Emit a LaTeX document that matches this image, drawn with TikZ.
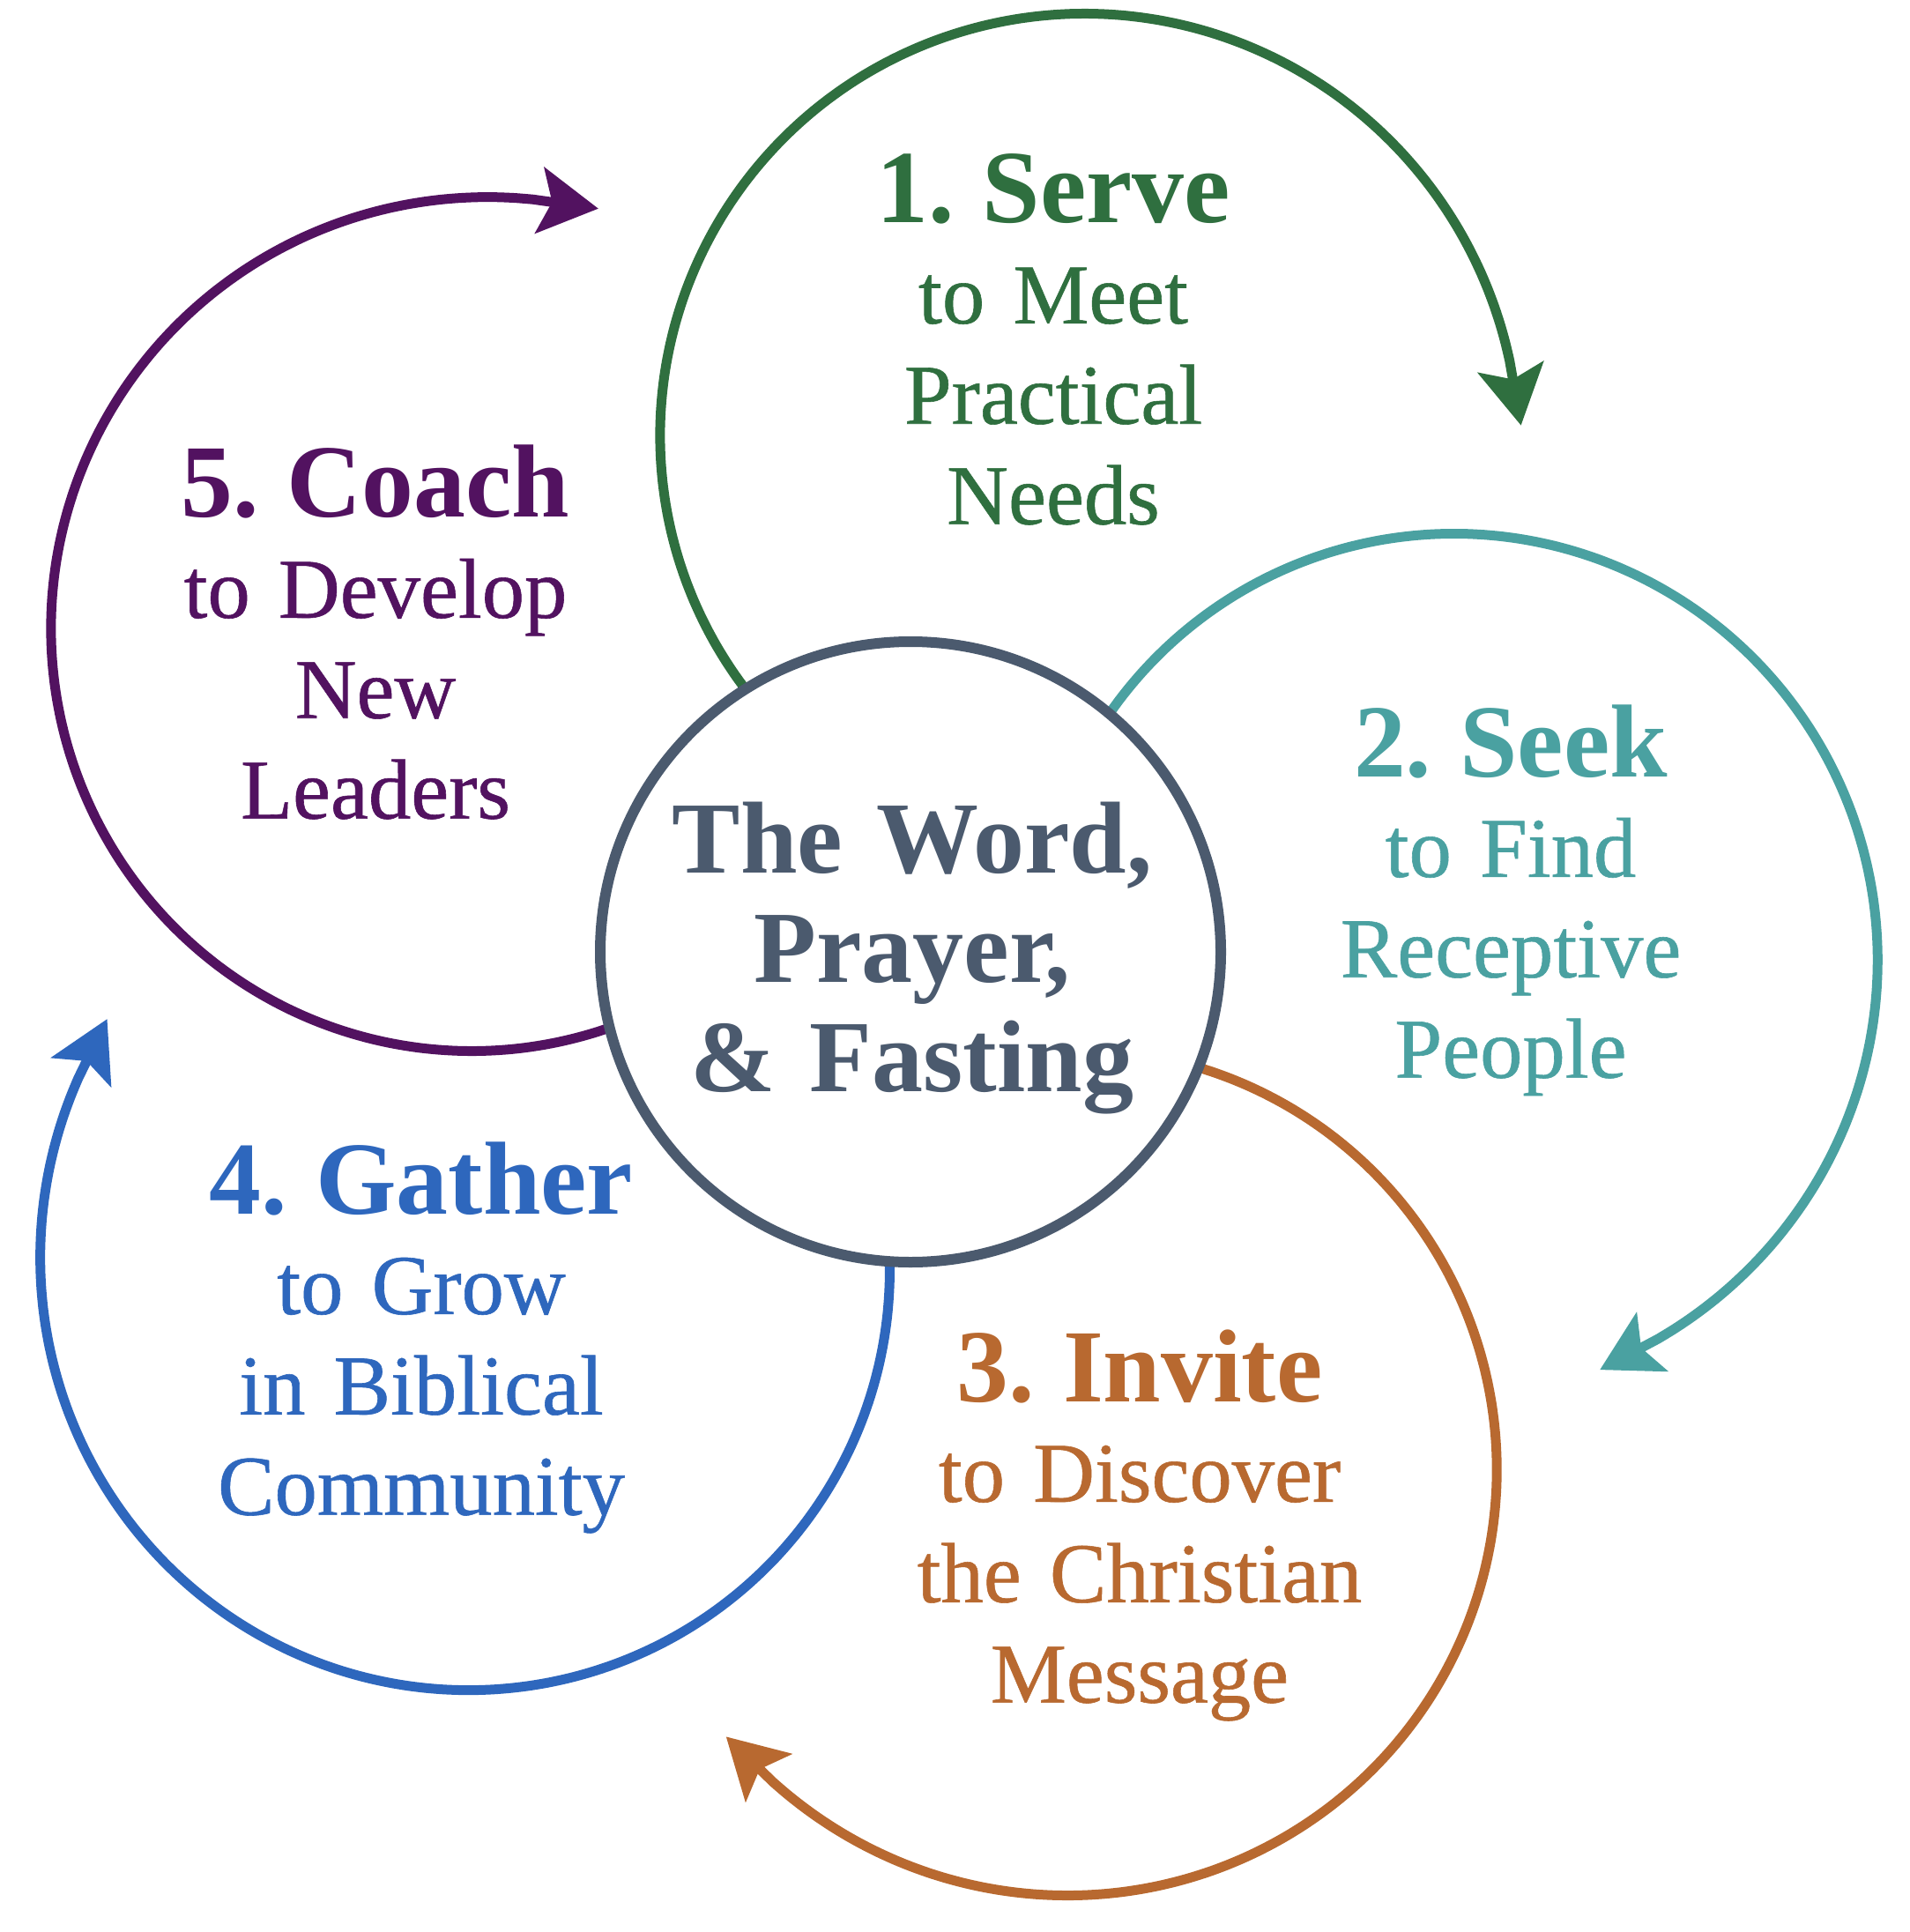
\documentclass[tikz,border=0pt]{standalone}
\usepackage{fontspec}
\setmainfont{Liberation Serif}
\newfontfamily\stepbody{Liberation Serif}[FakeBold=0.6]
\usetikzlibrary{arrows.meta, calc, positioning}
\frenchspacing

\definecolor{servegreen}{RGB}{47,111,63}
\definecolor{seekteal}{RGB}{74,161,161}
\definecolor{inviteorange}{RGB}{184,105,48}
\definecolor{gatherblue}{RGB}{46,103,189}
\definecolor{coachpurple}{RGB}{82,18,96}
\definecolor{coreslate}{RGB}{75,90,110}

\newcommand{\stephead}{\rmfamily\fontsize{33.5}{40}\selectfont\bfseries}

\begin{document}
\begin{tikzpicture}[
    cyclearc/.style={line width=1.1mm, -{Stealth[length=6.7mm, width=7.5mm, inset=1.4mm]}},
    steplabel/.style={anchor=base, text width=9cm, align=center, inner sep=0pt, font=\stepbody\fontsize{27.5}{32.4}\selectfont},
]
    % page frame
    \useasboundingbox (0,0) rectangle (21.66,-21.92);
    \coordinate (O) at (10.33,-10.80);

    % five arcs round the centre, clockwise, opening out a little towards the tip
    \foreach \a/\clr/\nm in {72/servegreen/serve, 0/seekteal/seek, -72/inviteorange/invite, -144/gatherblue/gather, 144/coachpurple/coach} {
        \coordinate (\nm-c) at ($(O)+(\a:6.15)$);
        \draw[cyclearc, \clr, shift={(\nm-c)}]
            plot[domain=\a+150:\a-62, samples=90, smooth] (\x:{4.74+0.26*((\a+150-\x)/220.5)^3})
            -- ++(\a-152:0.75);
    }

    % centre circle
    \node[circle, draw=coreslate, line width=1.2mm, fill=white, minimum size=7.04cm] (core) at (O) {};
    \node[anchor=base, text width=7cm, align=center, inner sep=0pt, text=coreslate,
          font=\fontsize{33}{35.3}\selectfont\bfseries] (words) at (10.35,-9.90) {The Word,\\ Prayer,\\ \& Fasting};

    % step texts
    \node[steplabel, text=servegreen] (serve) at (11.95,-2.53) {{\stephead 1. Serve}\\ to Meet\\ Practical\\ Needs};
    \node[steplabel, text=seekteal] (seek) at (17.14,-8.81) {{\stephead 2. Seek}\\ to Find\\ Receptive\\ People};
    \node[steplabel, text=inviteorange] (invite) at (12.93,-15.90) {{\stephead 3. Invite}\\ to Discover\\ the Christian\\ Message};
    \node[steplabel, text=gatherblue] (gather) at (4.78,-13.77) {{\stephead 4. Gather}\\ to Grow\\ in Biblical\\ Community};
    \node[steplabel, text=coachpurple] (coach) at (4.26,-5.87) {{\stephead 5. Coach}\\ to Develop\\ New\\ Leaders};
\end{tikzpicture}
\end{document}
